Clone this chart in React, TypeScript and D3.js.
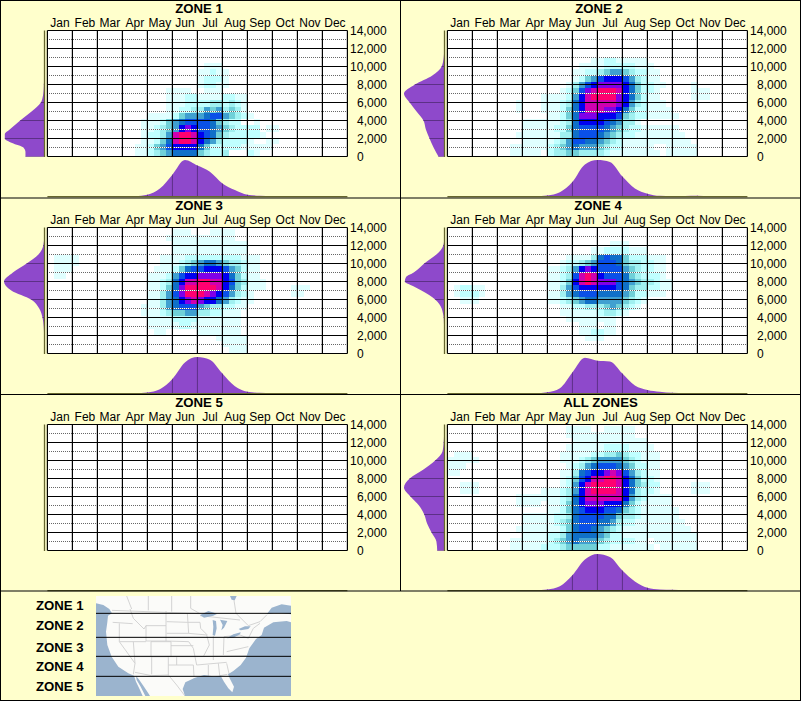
import React from "react";
import * as d3 from "d3";

const months = ["Jan","Feb","Mar","Apr","May","Jun","Jul","Aug","Sep","Oct","Nov","Dec"];
const elevTicks = [0,2000,4000,6000,8000,10000,12000,14000];
const levelColors = ["#ffffff","#e0ffff","#c0ffff","#a0f0f0","#70d0d8","#40a0d0","#1070c8","#0a50e8","#0000f0","#8000e8","#d000b0","#ff0070"];

// Heat cells: one string per row, top row first; "startColumn:levels" (one hex level per cell)
const cells1 = ["","","","","",
"25:111","24:11211","24:12221","24:12211","19:1111 25:111",
"19:1112211112211","19:1112222332321","19:1122335453431","16:11112455567754321",
"15:1112456777764322 33:1","15:1123458987765432222 35:11","15:12235abba87643222221",
"15:11246abba865322221 35:11","14:1124578888642222211111","14:112345666643223 32:21"];

const cells2 = ["","","","",
"23:112211111","21:111122222111","20:11223455432211","20:12457888753211",
"19:1357899998642211 39:1","18:12479abbba864221 39:111","15:1111258abbbb9864211 39:111",
"11:1 15:1112368aaaaa98532111","11:1 15:1112468aaa99864221111","16:112469998887432211111",
"12:1111112368888765331","12:1111122467777654322111111","11:111111133 20:6777654322 30:11111111",
"12:1111123577665432 28:11111111111","10:111111 16:234565554322 28:11111 35:11111","10:11111 16:233443333211111111 35:11111"];

const cells3 = [
"20:111 26:1111","19:11111111111","20:111111111111","20:111111111111",
"1:1111 18:1111222222222111","1:1111 18:1112345665433211","1:111 17:11124677888754211",
"1:11 16:111257889999864211","16:112368aabbaa8743111","16:112469bbbbba8642111 39:111",
"16:113579bbba9875321 39:11","16:1135689a988653211","15:11135677754332211",
"15:1112344553322111","16:111122221111111","16:111112211111111",
"17:11 24:1111111","27:11111","28:1111","29:111"];

const cells4 = ["","",
"26:111","23:112222111","19:1111367664222111","18:12234577764332211",
"16:1123589877775432211","16:11237aba87776432221","16:11248aba999765433211",
"1:12211 16:11357888888764332211","1:12221 16:1135677766665422111","2:111 16:1123456655554321",
"18:1122333454321","18:11111123321","19:11111111","21:111 25:11","21:112211","22:111","",""];

const cells5: string[] = [];

const cellsAll = [
"19:1111 25:11111","19:11111111111","20:111111111111","19:11111122221111",
"1:111 18:1111122334322111","0:11111 18:1112345555432111","0:111 19:123567776542211",
"0:11 18:11367889a9753211","18:12478aabba864221","2:111 18:1258abbbba864322 39:111",
"2:111 15:1112358abbbba863221 39:111","11:11111112368aaaaaa85321111",
"11:1111 16:11246899988864211111","16:112467888776432111111",
"12:11111 17:22367777664332111111","12:1111 16:1234677766532211111111",
"11:111111 17:1246776543211111111111","12:1111 16:2235666654 26:22111111111111",
"10:111111 16:2345655543222211 33:1111111","10:11111 15:22234444422 26:1111111 34:111111"];

// Marginal densities (relative height 0..1)
const bottom1 = [0,0,0,0,0,0,0,.01,.05,.22,.6,1,.85,.68,.36,.18,.05,.025,.015,.005,0,0,0,0,0];
const bottom2 = [0,0,0,0,0,.005,.01,.01,.03,.12,.4,.88,1,.95,.55,.22,.08,.02,.015,.015,.02,.01,0,0,0];
const bottom3 = [0,.01,.01,.005,0,0,0,.01,.03,.12,.4,.85,1,.93,.55,.2,.05,.02,.01,.005,.005,.005,0,0,0];
const bottom4 = [0,.015,.015,.005,0,0,0,.01,.04,.15,.58,.98,.9,.88,.55,.22,.1,.05,.02,.01,0,0,0,0,0];
const bottom5 = [0,0,0,0,0,0,0,0,0,0,0,0,0,0,0,0,0,0,0,0,0,0,0,0,0];
const bottomAll = [0,.01,.01,.005,.005,.005,.01,.01,.03,.12,.42,.85,1,.92,.55,.25,.08,.03,.02,.015,.015,.01,0,0,0];

const left1 = [.47,.47,.52,.8,.98,.98,.86,.73,.6,.46,.32,.19,.09,.05,.03,.02,.015,.01,.005,0,0,0,0,0,0,0,0,0,0];
const left2 = [.15,.27,.37,.46,.52,.69,.86,1,.73,.3,.07,.02,.005,0,0];
const left3 = [0,.005,.01,.02,.05,.13,.33,.82,1,.78,.44,.15,.03,.005,0];
const left4 = [0,0,0,.003,.005,.007,.01,.015,.02,.04,.07,.13,.23,.38,.57,.78,.98,.95,.76,.62,.5,.35,.2,.09,.03,.01,.005,0,0];
const left5 = [0,0,0,0,0,0,0,0,0,0,0,0,0,0,0];
const leftAll = [.18,.2,.32,.43,.5,.63,.84,1,.86,.52,.23,.05,.02,.01,0];

const zoneNames = ["ZONE 1","ZONE 2","ZONE 3","ZONE 4","ZONE 5","ALL ZONES"];
const zoneCells = [cells1,cells2,cells3,cells4,cells5,cellsAll];
const zoneBottom = [bottom1,bottom2,bottom3,bottom4,bottom5,bottomAll];
const zoneLeft = [left1,left2,left3,left4,left5,leftAll];

const legendNames = ["ZONE 1","ZONE 2","ZONE 3","ZONE 4","ZONE 5"];
const legendY = [605,625,647,666,686];
const bandLats = [85,157,214,274];

// Map artwork, in source-picture units of the little locator map
const water: number[][][] = [
 [[288,55],[310,60],[328,72],[336,85],[324,92],[322,112],[318,140],[322,180],[335,215],[355,245],[385,265],[402,272],[408,290],[420,315],[428,333],[288,333]],
 [[408,272],[418,285],[432,305],[445,325],[450,333],[436,333],[422,305],[410,285]],
 [[555,333],[548,312],[556,292],[585,278],[612,270],[640,274],[662,272],[672,290],[685,310],[697,322],[702,305],[690,282],[684,268],[700,258],[722,240],[738,218],[748,190],[768,162],[785,150],[792,128],[820,112],[860,108],[873,112],[873,333]],
 [[873,62],[845,58],[815,68],[800,88],[822,84],[845,84],[873,88]],
 [[690,33],[710,33],[704,46],[695,44]],
 [[600,90],[625,78],[652,86],[640,92],[612,98]],
 [[638,105],[648,108],[650,130],[645,152],[638,150],[640,125]],
 [[660,104],[682,108],[672,128],[664,136],[668,120]],
 [[680,160],[700,148],[722,142],[720,148],[700,158]],
 [[716,132],[735,124],[752,124],[745,132],[722,136]]
];
const stateLines: number[][][] = [
 [[336,76],[600,86]],[[338,112],[398,116]],[[390,72],[400,100],[432,132],[438,122]],[[438,122],[498,122],[498,168],[438,168],[438,122]],
 [[498,78],[498,122]],[[500,110],[562,112]],[[500,145],[566,145]],[[562,84],[566,145]],[[562,112],[600,112]],
 [[453,170],[513,170],[513,215],[453,215],[453,170]],[[498,168],[566,170],[580,190]],[[513,182],[580,182]],[[513,215],[590,215]],
 [[358,170],[438,170]],[[358,115],[358,170],[405,235]],[[400,170],[405,235],[400,268]],[[405,215],[505,215]],[[455,215],[455,268]],[[505,215],[505,270]],
 [[405,262],[455,272],[505,270]],[[505,240],[580,240],[582,275]],[[530,215],[530,240]],[[580,190],[590,240]],[[566,145],[620,150],[628,180],[610,215]],
 [[600,112],[602,130],[622,150]],[[640,152],[640,225]],[[672,155],[670,210]],[[590,215],[745,212]],[[590,240],[680,232]],[[625,240],[625,282]],
 [[655,235],[660,280]],[[680,235],[688,270]],[[580,282],[625,280]],[[660,272],[682,268]],[[672,155],[720,150],[745,160]],[[745,160],[760,130],[780,115]],
 [[720,105],[600,92]],[[700,33],[708,85],[745,122],[780,110],[800,90]],[[445,33],[445,76]],[[515,33],[515,80]],[[572,33],[572,70],[600,86]],
 [[380,33],[395,72]],[[505,270],[530,300],[555,333]],[[680,200],[745,185]]
];

const gridLeft = 47.4, gridW = 300, cellSize = 6.25;
const elevH = 126, plotTop = 30.5;
const panelDy = 197;

function parseRow(row: string): [number, number][] {
  const out: [number, number][] = [];
  row.trim().split(/\s+/).forEach((seg) => {
    if (!seg.includes(":")) return;
    const [start, levels] = seg.split(":");
    const s = +start;
    levels.split("").forEach((ch, i) => {
      const v = parseInt(ch, 16);
      if (v > 0 && s + i < 48) out.push([s + i, v]);
    });
  });
  return out;
}

function Panel({ index }: { index: number }) {
  const dx = index % 2 === 0 ? 0 : 400;
  const dy = Math.floor(index / 2) * panelDy;
  const x = d3.scaleLinear().domain([0, 12]).range([gridLeft, gridLeft + gridW]);
  const y = d3.scaleLinear().domain([0, 14000]).range([plotTop + elevH, plotTop]);
  const bottomBase = plotTop + elevH + 40.1;
  const hBottom = d3.scaleLinear().domain([0, 1]).range([bottomBase, bottomBase - 36.5]);
  const leftBase = 44.5;
  const hLeft = d3.scaleLinear().domain([0, 1]).range([leftBase, 4]);
  const bVals = zoneBottom[index];
  const lVals = zoneLeft[index];
  const areaB = d3.area<number>().x((_, i) => x(i / 2)).y0(bottomBase).y1((d) => hBottom(d)).curve(d3.curveMonotoneX)(bVals) as string;
  const areaL = d3.area<number>().y((_, i) => y((i * 14000) / (lVals.length - 1))).x0(leftBase).x1((d) => hLeft(d)).curve(d3.curveMonotoneY)(lVals) as string;
  const rows = zoneCells[index];
  const hasDensity = d3.max(bVals)! > 0;
  const minors = elevTicks.slice(1).map((t) => t - 1000);
  return (
    <g transform={`translate(${dx},${dy})`}>
      <text x={index === 5 ? 200.5 : index === 3 ? 198 : 199} y={13.3} textAnchor="middle" fontWeight="bold" fontSize={13.2}>{zoneNames[index]}</text>
      {months.map((m, i) => (
        <text key={m} x={x(i + 0.5)} y={26.8} textAnchor="middle" fontSize={12}>{m}</text>
      ))}
      <rect x={gridLeft} y={plotTop} width={gridW} height={elevH} fill="#fff" />
      {rows.map((row, i) =>
        parseRow(row).map(([c, v]) => (
          <rect key={`${i}-${c}`} x={gridLeft + c * cellSize} y={plotTop + elevH - (20 - i) * cellSize} width={cellSize + 0.1} height={cellSize + 0.1} fill={levelColors[v]} shapeRendering="crispEdges" />
        ))
      )}
      {minors.map((t) => (
        <g key={t}>
          <line x1={47} x2={347} y1={y(t)} y2={y(t)} stroke="#fff" strokeWidth={1} shapeRendering="crispEdges" />
          <line x1={47} x2={347} y1={y(t)} y2={y(t)} stroke="#666" strokeWidth={1} strokeDasharray="1 1" shapeRendering="crispEdges" />
        </g>
      ))}
      {elevTicks.map((t) => (
        <line key={t} x1={gridLeft} x2={gridLeft + gridW} y1={y(t)} y2={y(t)} stroke="#000" strokeWidth={1.2} />
      ))}
      {d3.range(13).map((i) => (
        <line key={i} x1={x(i)} x2={x(i)} y1={plotTop} y2={plotTop + elevH} stroke="#000" strokeWidth={1.2} />
      ))}
      {elevTicks.map((t) => (
        <text key={t} x={t >= 10000 ? 350 : 357} y={y(t) + 4.3} fontSize={12}>{d3.format(",")(t)}</text>
      ))}
      {hasDensity && (
        <g>
          <clipPath id={`cb${index}`}><path d={areaB} /></clipPath>
          <clipPath id={`cl${index}`}><path d={areaL} /></clipPath>
          <path d={areaB} fill="#8e49cb" />
          <path d={areaL} fill="#8e49cb" />
          <g clipPath={`url(#cb${index})`}>
            {d3.range(13).map((i) => (
              <line key={i} x1={x(i)} x2={x(i)} y1={bottomBase - 40} y2={bottomBase} stroke="#5c3086" strokeWidth={1} />
            ))}
          </g>
          <g clipPath={`url(#cl${index})`}>
            {elevTicks.map((t) => (
              <line key={t} x1={0} x2={leftBase} y1={y(t)} y2={y(t)} stroke="#5c3086" strokeWidth={1} />
            ))}
          </g>
        </g>
      )}
      <line x1={gridLeft} x2={gridLeft + gridW} y1={bottomBase} y2={bottomBase} stroke="#66662e" strokeWidth={1.3} />
      <line x1={leftBase} x2={leftBase} y1={plotTop} y2={plotTop + elevH + 0.5} stroke="#66662e" strokeWidth={1.3} />
    </g>
  );
}

function LocatorMap() {
  const mx = d3.scaleLinear().domain([288, 873]).range([96, 291]);
  const my = d3.scaleLinear().domain([33, 333]).range([596, 696]);
  const line = d3.line<number[]>().x((p) => mx(p[0])).y((p) => my(p[1]));
  return (
    <g>
      <clipPath id="mapclip"><rect x={96} y={596} width={195} height={100} /></clipPath>
      <g clipPath="url(#mapclip)">
        <rect x={96} y={596} width={195} height={100} fill="#fbfbf9" />
        {stateLines.map((p, i) => (
          <path key={i} d={line(p) as string} fill="none" stroke="#cfcfcf" strokeWidth={0.9} />
        ))}
        {water.map((p, i) => (
          <path key={i} d={`${line(p)}Z`} fill="#9bb4ce" />
        ))}
      </g>
      {bandLats.map((b) => (
        <line key={b} x1={96} x2={291} y1={my(b)} y2={my(b)} stroke="#000" strokeWidth={1} />
      ))}
    </g>
  );
}

export default function App() {
  return (
    <svg width={801} height={701} style={{ position: "absolute", left: 0, top: 0, display: "block" }} fontFamily="'Liberation Sans', Arial, sans-serif">
      <rect x={0} y={0} width={801} height={701} fill="#ffffcc" />
      {zoneNames.map((_, i) => <Panel key={i} index={i} />)}
      <line x1={400.5} x2={400.5} y1={0} y2={591} stroke="#000" strokeWidth={1} />
      {[198, 394.5, 591].map((yy) => (
        <line key={yy} x1={0} x2={801} y1={yy} y2={yy} stroke="#000" strokeWidth={1.2} />
      ))}
      <rect x={0.5} y={0.5} width={800} height={700} fill="none" stroke="#000" strokeWidth={1} />
      {legendNames.map((n, i) => (
        <text key={n} x={36} y={legendY[i] + 5} fontWeight="bold" fontSize={13.2}>{n}</text>
      ))}
      <LocatorMap />
    </svg>
  );
}
